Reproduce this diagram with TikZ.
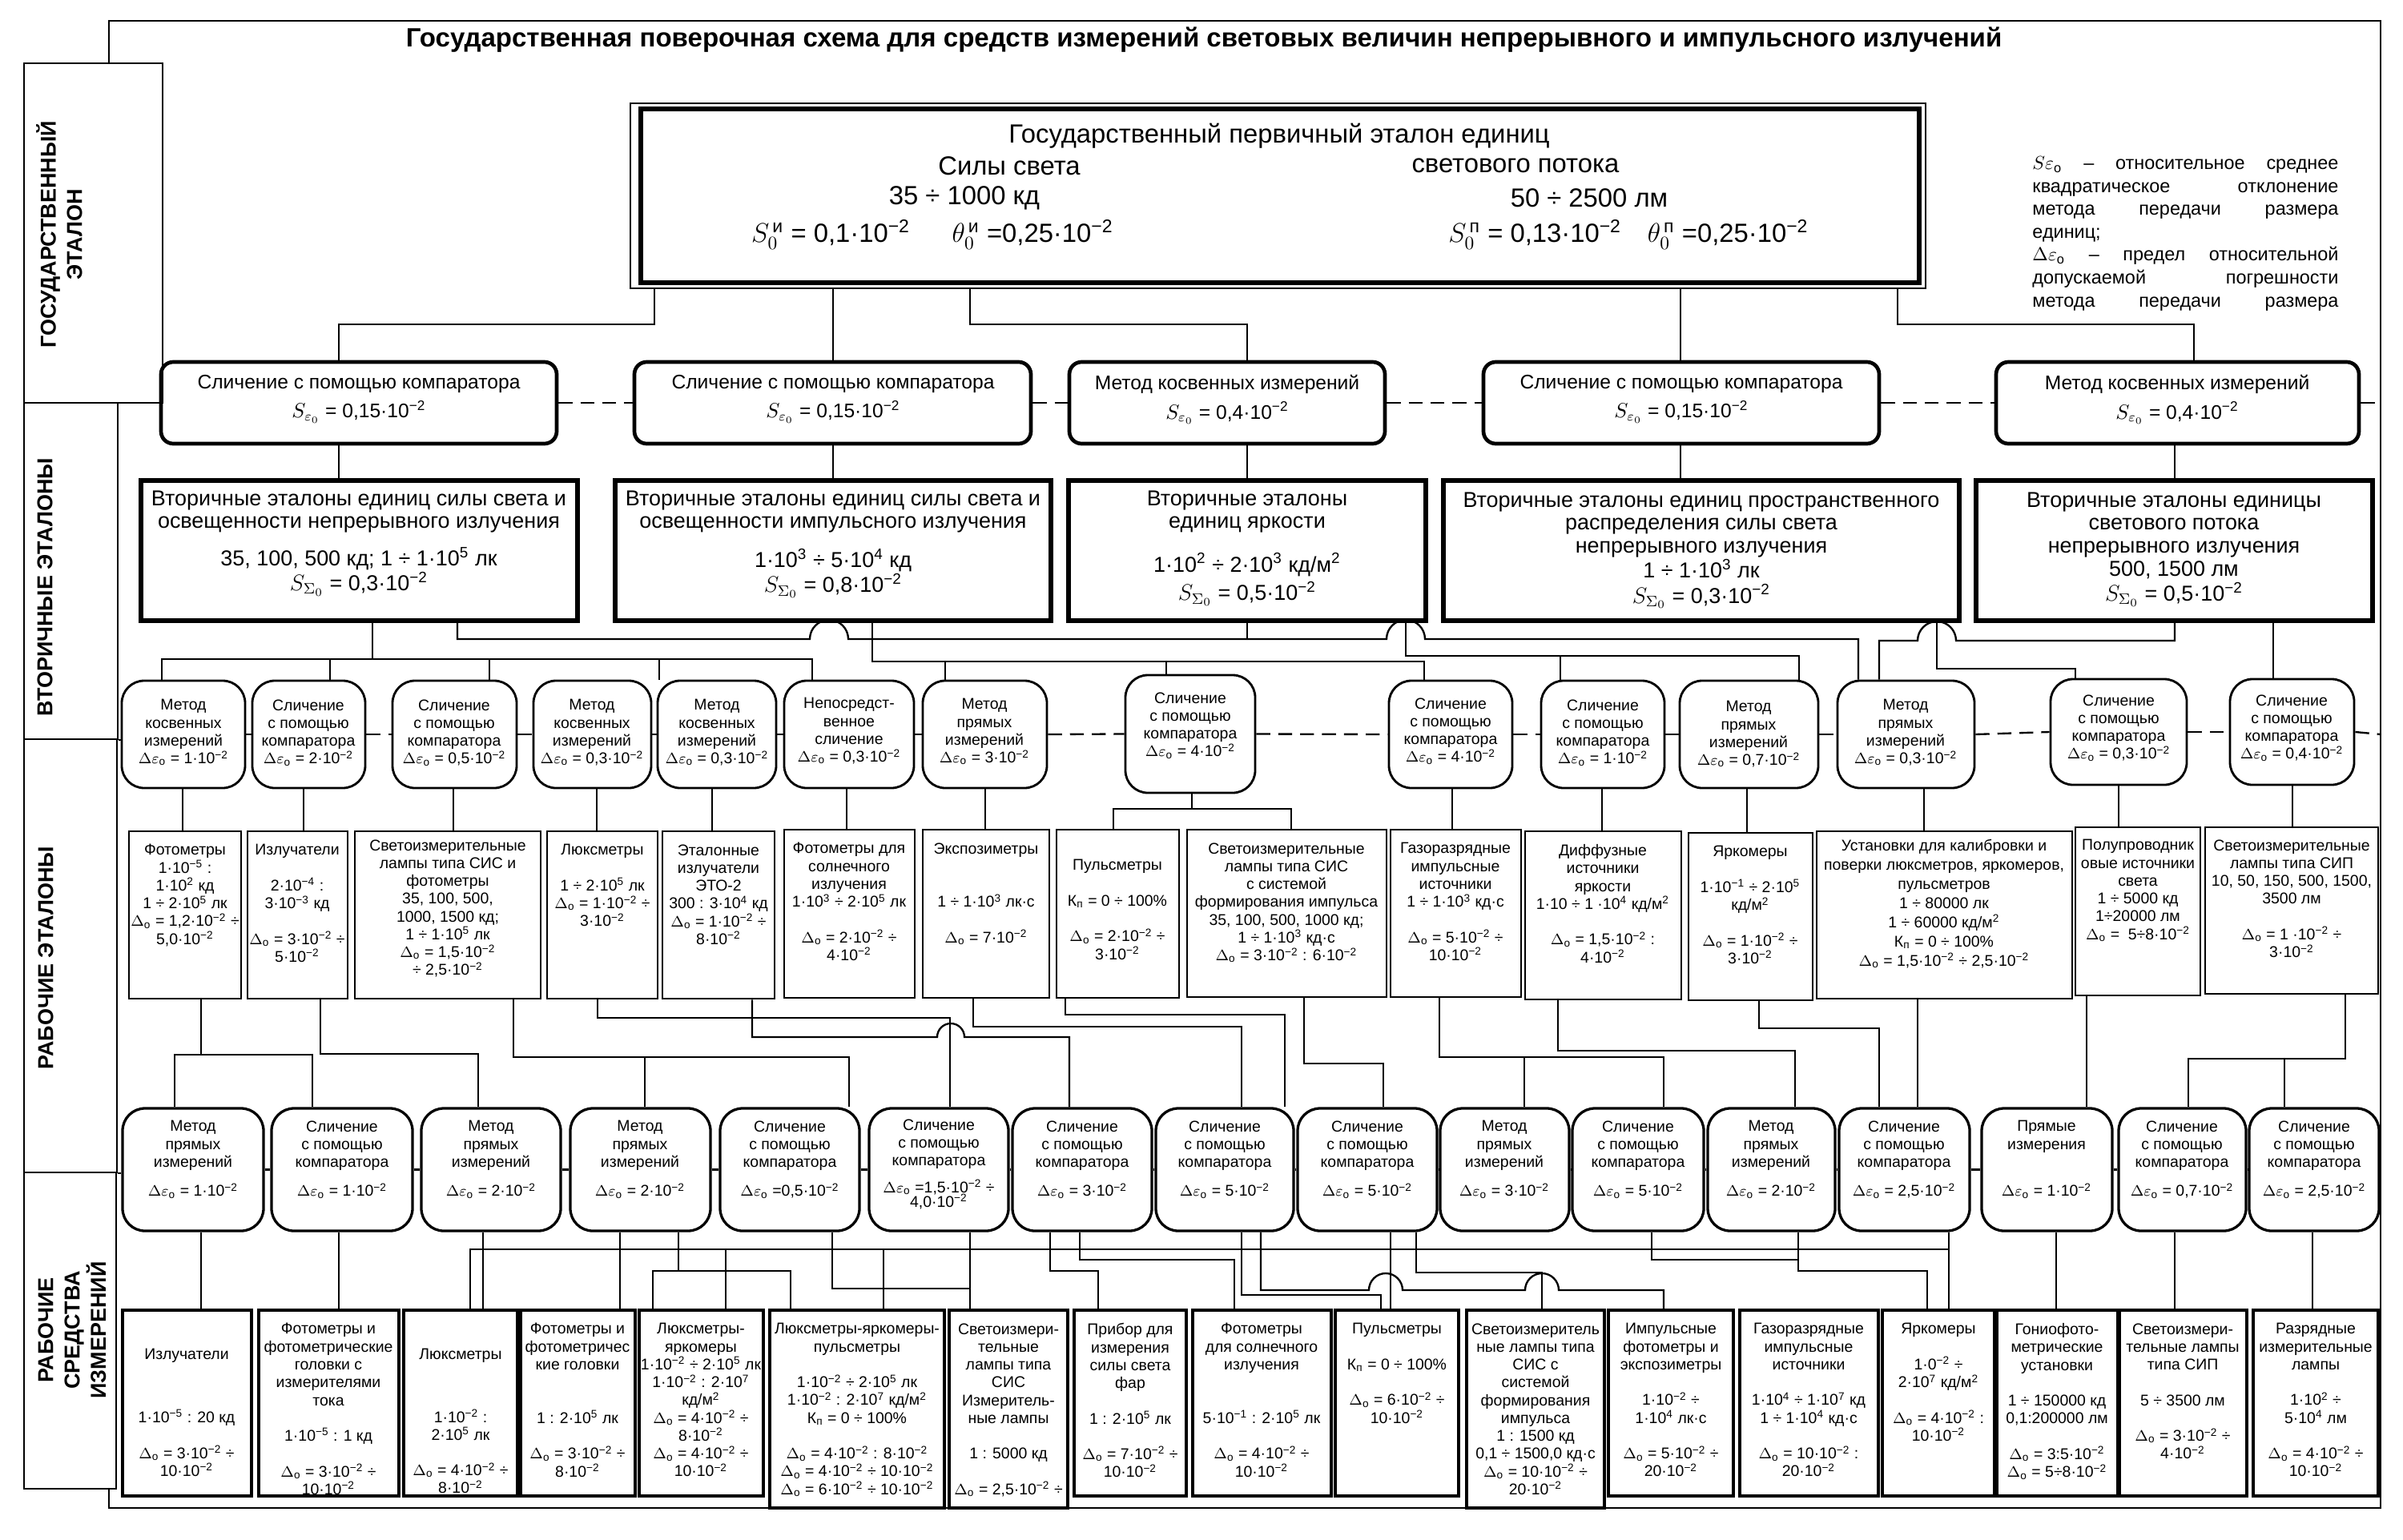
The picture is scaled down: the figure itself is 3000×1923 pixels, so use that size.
\documentclass[tikz,border=0pt]{standalone}
\usepackage{fontspec}
\setmainfont{Liberation Sans}
\usepackage{amsmath}
\usetikzlibrary{fit}
\newcommand{\pw}[1]{\textsuperscript{#1}}
\newcommand{\dlo}{$\Delta_{\mathrm{o}}$}
\newcommand{\dle}{$\Delta\varepsilon_{\mathrm{o}}$}
\newcommand{\Kp}{К\textsubscript{п}}
\tikzset{
  conn/.style={line width=1pt},
  dsh/.style={line width=1pt,dash pattern=on 2.6mm off 1.5mm},
  ttl/.style={font=\fontsize{14.1}{16}\selectfont\bfseries},
  sidebox/.style={draw,line width=1pt,inner sep=0pt},
  sidetxt/.style={font=\fontsize{11.5}{14}\selectfont\bfseries,rotate=90,align=center},
  stdbox/.style={draw,line width=1pt,inner sep=0pt},
  stdtxt/.style={font=\fontsize{14}{16}\selectfont},
  cmpbox/.style={draw,line width=2pt,rounded corners=2.3mm,inner sep=0pt},
  cmptxt/.style={font=\fontsize{10.5}{15.5}\selectfont,align=center,anchor=north,inner sep=0pt},
  secbox/.style={draw,line width=2.5pt,inner sep=0pt},
  sectxt/.style={font=\fontsize{11.5}{12.3}\selectfont,align=center,anchor=north,inner sep=0pt},
  mbox/.style={draw,line width=1.2pt,rounded corners=4.2mm,inner sep=0pt},
  ebox/.style={draw,line width=1.1pt,inner sep=0pt},
  sbox/.style={draw,line width=1.4pt,rounded corners=4.2mm,inner sep=0pt},
  dbox/.style={draw,line width=1.6pt,inner sep=0pt},
  smalltxt/.style={font=\fontsize{8.3}{9.5}\selectfont,align=center,anchor=north,inner sep=0pt},
  keytxt/.style={font=\fontsize{10}{12.2}\selectfont,align=left,anchor=north west,inner sep=0pt}}
\begin{document}
\begin{tikzpicture}[x=0.15mm,y=-0.15mm]
\useasboundingbox (0,0) rectangle (3000,1923);
\node[ttl] (title) at (1503,50) {Государственная поверочная схема для средств измерений световых величин непрерывного и импульсного излучений};
% side column
\node[sidebox,fit={(30,79)(203,503)}] (lab1) {};
\node[sidebox,fit={(30,503)(147,923)}] (lab2) {};
\node[sidebox,fit={(30,923)(146,1464)}] (lab3) {};
\node[sidebox,fit={(30,1464)(145,1859)}] (lab4) {};
\node[sidetxt] (lab1t) at (74,293) {ГОСУДАРСТВЕННЫЙ\\ЭТАЛОН};
\node[sidetxt] (lab2t) at (56,733) {ВТОРИЧНЫЕ ЭТАЛОНЫ};
\node[sidetxt] (lab3t) at (57,1196) {РАБОЧИЕ ЭТАЛОНЫ};
\node[sidetxt] (lab4t) at (90,1661) {РАБОЧИЕ\\СРЕДСТВА\\ИЗМЕРЕНИЙ};
\draw[line width=1.2pt] (136,0 |- lab1.north) -- (136,26) -- (2972,26) -- (2972,1883) -- (136,1883) -- (136,0 |- lab4.south);
% state primary standard
\node[stdbox,fit={(787,129)(2404,360)}] (std) {};
\draw[line width=2.6pt] (800,136) rectangle (2396,353);
\node[stdtxt] (std1) at (1597,170) {Государственный первичный эталон единиц};
\node[stdtxt] (std2) at (1260,207) {Силы света};
\node[stdtxt] (std3) at (1892,207) {светового потока};
\node[stdtxt] (std4) at (1204,247) {35 ÷ 1000 кд};
\node[stdtxt] (std5) at (1984,247) {50 ÷ 2500 лм};
\node[stdtxt] (std6) at (1164,293) {$S^{\,\text{и}}_{0}$ = 0,1·10\pw{−2}\hspace{1.6em}$\theta^{\,\text{и}}_{0}$ =0,25·10\pw{−2}};
\node[stdtxt] (std7) at (2033,293) {$S^{\,\text{п}}_{0}$ = 0,13·10\pw{−2}\hspace{1em}$\theta^{\,\text{п}}_{0}$ =0,25·10\pw{−2}};
\node[keytxt] (key) at (2537,195) {\makebox[57.3mm][s]{$S\varepsilon_{\mathrm{o}}$ – относительное среднее}\\\makebox[57.3mm][s]{квадратическое отклонение}\\\makebox[57.3mm][s]{метода передачи размера}\\единиц;\\\makebox[57.3mm][s]{$\Delta\varepsilon_{\mathrm{o}}$ – предел относительной}\\\makebox[57.3mm][s]{допускаемой погрешности}\\\makebox[57.3mm][s]{метода передачи размера}};
% transfer to secondary standards
\node[cmpbox,fit={(201,452)(695,554)}] (c1) {};
\node[cmpbox,fit={(792,452)(1287,554)}] (c2) {};
\node[cmpbox,fit={(1335,452)(1729,554)}] (c3) {};
\node[cmpbox,fit={(1852,452)(2346,554)}] (c4) {};
\node[cmpbox,fit={(2492,452)(2945,554)}] (c5) {};
\node[cmptxt] (c1t) at (448,468) {Сличение с помощью компаратора\\$S_{\varepsilon_0}$ = 0,15·10\pw{−2}};
\node[cmptxt] (c2t) at (1040,468) {Сличение с помощью компаратора\\$S_{\varepsilon_0}$ = 0,15·10\pw{−2}};
\node[cmptxt] (c3t) at (1532,468) {Метод косвенных измерений\\$S_{\varepsilon_0}$ = 0,4·10\pw{−2}};
\node[cmptxt] (c4t) at (2099,468) {Сличение с помощью компаратора\\$S_{\varepsilon_0}$ = 0,15·10\pw{−2}};
\node[cmptxt] (c5t) at (2718,468) {Метод косвенных измерений\\$S_{\varepsilon_0}$ = 0,4·10\pw{−2}};
\coordinate (rc) at (2972,503);
\draw[dsh] (c1.east) -- (c2.west);
\draw[dsh] (c2.east) -- (c3.west);
\draw[dsh] (c3.east) -- (c4.west);
\draw[dsh] (c4.east) -- (c5.west);
\draw[dsh] (c5.east) -- (rc);
\draw[conn] (817,0 |- std.south) |- (423,405) -- (423,0 |- c1.north);
\draw[conn] (1040,0 |- std.south) -- (1040,0 |- c2.north);
\draw[conn] (1211,0 |- std.south) |- (1557,405) -- (1557,0 |- c3.north);
\draw[conn] (2098,0 |- std.south) -- (2098,0 |- c4.north);
\draw[conn] (2369,0 |- std.south) |- (2739,405) -- (2739,0 |- c5.north);
% secondary standards
\node[secbox,fit={(176,600)(721,775)}] (s1) {};
\node[secbox,fit={(768,600)(1312,775)}] (s2) {};
\node[secbox,fit={(1334,600)(1780,775)}] (s3) {};
\node[secbox,fit={(1802,600)(2446,775)}] (s4) {};
\node[secbox,fit={(2467,600)(2962,775)}] (s5) {};
\node[sectxt] (s1t) at (448,612) {Вторичные эталоны единиц силы света и\\освещенности непрерывного излучения\\[7.5pt]35, 100, 500 кд; 1 ÷ 1·10\pw{5} лк\\[1pt]$S_{\Sigma_0}$ = 0,3·10\pw{−2}};
\node[sectxt] (s2t) at (1040,612) {Вторичные эталоны единиц силы света и\\освещенности импульсного излучения\\[7.5pt]1·10\pw{3} ÷ 5·10\pw{4} кд\\[1pt]$S_{\Sigma_0}$ = 0,8·10\pw{−2}};
\node[sectxt] (s3t) at (1557,612) {Вторичные эталоны\\единиц яркости\\[9.8pt]1·10\pw{2} ÷ 2·10\pw{3} кд/м\pw{2}\\[3pt]$S_{\Sigma_0}$ = 0,5·10\pw{−2}};
\node[sectxt] (s4t) at (2124,614) {Вторичные эталоны единиц пространственного\\распределения силы света\\непрерывного излучения\\1 ÷ 1·10\pw{3} лк\\[1pt]$S_{\Sigma_0}$ = 0,3·10\pw{−2}};
\node[sectxt] (s5t) at (2714,614) {Вторичные эталоны единицы\\светового потока\\непрерывного излучения\\500, 1500 лм\\[1pt]$S_{\Sigma_0}$ = 0,5·10\pw{−2}};
\draw[conn] (423,0 |- c1.south) -- (423,0 |- s1.north);
\draw[conn] (1040,0 |- c2.south) -- (1040,0 |- s2.north);
\draw[conn] (1557,0 |- c3.south) -- (1557,0 |- s3.north);
\draw[conn] (2098,0 |- c4.south) -- (2098,0 |- s4.north);
\draw[conn] (2715,0 |- c5.south) -- (2715,0 |- s5.north);
% methods for working standards
\node[mbox,fit={(152,850)(306,984)}] (m1) {};
\node[mbox,fit={(315,850)(456,984)}] (m2) {};
\node[mbox,fit={(490,850)(645,984)}] (m3) {};
\node[mbox,fit={(666,850)(813,984)}] (m4) {};
\node[mbox,fit={(821,850)(969,984)}] (m5) {};
\node[mbox,fit={(979,850)(1141,984)}] (m6) {};
\node[mbox,fit={(1152,850)(1307,984)}] (m7) {};
\node[mbox,fit={(1405,843)(1567,990)}] (m8) {};
\node[mbox,fit={(1734,850)(1888,984)}] (m9) {};
\node[mbox,fit={(1924,850)(2078,984)}] (m10) {};
\node[mbox,fit={(2097,850)(2270,984)}] (m11) {};
\node[mbox,fit={(2294,850)(2465,984)}] (m12) {};
\node[mbox,fit={(2560,848)(2730,980)}] (m13) {};
\node[mbox,fit={(2784,848)(2939,980)}] (m14) {};
\node[smalltxt] (m1t) at (229,873) {Метод\\косвенных\\измерений\\\dle{} = 1·10\pw{−2}};
\node[smalltxt] (m2t) at (385,873) {Сличение\\с помощью\\компаратора\\\dle{} = 2·10\pw{−2}};
\node[smalltxt] (m3t) at (567,873) {Сличение\\с помощью\\компаратора\\\dle{} = 0,5·10\pw{−2}};
\node[smalltxt] (m4t) at (739,873) {Метод\\косвенных\\измерений\\\dle{} = 0,3·10\pw{−2}};
\node[smalltxt] (m5t) at (895,873) {Метод\\косвенных\\измерений\\\dle{} = 0,3·10\pw{−2}};
\node[smalltxt] (m6t) at (1060,871) {Непосредст-\\венное\\сличение\\\dle{} = 0,3·10\pw{−2}};
\node[smalltxt] (m7t) at (1229,872) {Метод\\прямых\\измерений\\\dle{} = 3·10\pw{−2}};
\node[smalltxt] (m8t) at (1486,864) {Сличение\\с помощью\\компаратора\\\dle{} = 4·10\pw{−2}};
\node[smalltxt] (m9t) at (1811,871) {Сличение\\с помощью\\компаратора\\\dle{} = 4·10\pw{−2}};
\node[smalltxt] (m10t) at (2001,873) {Сличение\\с помощью\\компаратора\\\dle{} = 1·10\pw{−2}};
\node[smalltxt] (m11t) at (2183,875) {Метод\\прямых\\измерений\\\dle{} = 0,7·10\pw{−2}};
\node[smalltxt] (m12t) at (2379,873) {Метод\\прямых\\измерений\\\dle{} = 0,3·10\pw{−2}};
\node[smalltxt] (m13t) at (2645,867) {Сличение\\с помощью\\компаратора\\\dle{} = 0,3·10\pw{−2}};
\node[smalltxt] (m14t) at (2861,867) {Сличение\\с помощью\\компаратора\\\dle{} = 0,4·10\pw{−2}};
\coordinate (rm) at (2972,917);
\draw[conn] (lab2.south east) -- (m1.west |- lab2.south east);
\draw[dsh] (m1.east) -- (m2.west);
\draw[dsh] (m2.east) -- (m3.west);
\draw[dsh] (m3.east) -- (m4.west);
\draw[dsh] (m4.east) -- (m5.west);
\draw[dsh] (m5.east) -- (m6.west);
\draw[dsh] (m6.east) -- (m7.west);
\draw[dsh] (m7.east) -- (m8.west);
\draw[dsh] (m8.east) -- (m9.west);
\draw[dsh] (m9.east) -- (m10.west);
\draw[dsh] (m10.east) -- (m11.west);
\draw[dsh] (m11.east) -- (m12.west);
\draw[dsh] (m12.east) -- (m13.west);
\draw[dsh] (m13.east) -- (m14.west);
\draw[dsh] (m14.east) -- (rm);
% secondary -> methods
\draw[conn] (465,0 |- s1.south) |- (202,823) -- (202,0 |- m1.north);
\draw[conn] (465,823) -| (1014,0 |- m6.north);
\draw[conn] (412,823) -- (412,0 |- m2.north);
\draw[conn] (611,823) -- (611,0 |- m3.north);
\draw[conn] (823,823) -- (823,0 |- m5.north);
\draw[conn] (571,0 |- s1.south) -- (571,798) -- (1011,798) arc[start angle=180,end angle=0,radius=3.6mm] -- (1731,798) arc[start angle=180,end angle=0,radius=3.6mm] -- (2320,798) -- (2320,0 |- m12.north);
\draw[conn] (1089,0 |- s2.south) |- (1778,826) -- (1778,0 |- m9.north);
\draw[conn] (1180,826) -- (1180,0 |- m7.north);
\draw[conn] (1456,826) -- (1456,0 |- m8.north);
\draw[conn] (1557,0 |- s3.south) -- (1557,798);
\draw[conn] (1755,0 |- s3.south) |- (2246,819) -- (2246,0 |- m11.north);
\draw[conn] (1948,819) -- (1948,0 |- m10.north);
\draw[conn] (2418,0 |- s4.south) |- (2591,835) -- (2591,0 |- m13.north);
\draw[conn] (2715,0 |- s5.south) -- (2715,800) -- (2442,800) arc[start angle=0,end angle=180,radius=3.6mm] -- (2346,800) -- (2346,0 |- m12.north);
\draw[conn] (2838,0 |- s5.south) -- (2838,0 |- m14.north);
% working standards
\node[ebox,fit={(161,1038)(301,1247)}] (w1) {};
\node[ebox,fit={(309,1038)(434,1247)}] (w2) {};
\node[ebox,fit={(443,1038)(675,1247)}] (w3) {};
\node[ebox,fit={(683,1038)(821,1247)}] (w4) {};
\node[ebox,fit={(827,1038)(967,1247)}] (w5) {};
\node[ebox,fit={(979,1036)(1142,1246)}] (w6) {};
\node[ebox,fit={(1152,1036)(1310,1246)}] (w7) {};
\node[ebox,fit={(1319,1036)(1472,1246)}] (w8) {};
\node[ebox,fit={(1482,1036)(1731,1245)}] (w9) {};
\node[ebox,fit={(1736,1036)(1899,1245)}] (w10) {};
\node[ebox,fit={(1904,1038)(2099,1248)}] (w11) {};
\node[ebox,fit={(2108,1040)(2263,1249)}] (w12) {};
\node[ebox,fit={(2268,1038)(2587,1247)}] (w13) {};
\node[ebox,fit={(2591,1033)(2747,1243)}] (w14) {};
\node[ebox,fit={(2753,1033)(2969,1241)}] (w15) {};
\node[smalltxt] (w1t) at (231,1054) {Фотометры\\1·10\pw{−5} :\\1·10\pw{2} кд\\1 ÷ 2·10\pw{5} лк\\\dlo{} = 1,2·10\pw{−2} ÷\\5,0·10\pw{−2}};
\node[smalltxt] (w2t) at (371,1054) {Излучатели\\[9.5pt]2·10\pw{−4} :\\3·10\pw{−3} кд\\[9.5pt]\dlo{} = 3·10\pw{−2} ÷\\5·10\pw{−2}};
\node[smalltxt] (w3t) at (559,1048) {Светоизмерительные\\лампы типа СИС и\\фотометры\\35, 100, 500,\\1000, 1500 кд;\\1 ÷ 1·10\pw{5} лк\\\dlo{} = 1,5·10\pw{−2}\\÷ 2,5·10\pw{−2}};
\node[smalltxt] (w4t) at (752,1054) {Люксметры\\[9.5pt]1 ÷ 2·10\pw{5} лк\\\dlo{} = 1·10\pw{−2} ÷\\3·10\pw{−2}};
\node[smalltxt] (w5t) at (897,1054) {Эталонные\\излучатели\\ЭТО-2\\300 : 3·10\pw{4} кд\\\dlo{} = 1·10\pw{−2} ÷\\8·10\pw{−2}};
\node[smalltxt] (w6t) at (1060,1052) {Фотометры для\\солнечного\\излучения\\1·10\pw{3} ÷ 2·10\pw{5} лк\\[9.5pt]\dlo{} = 2·10\pw{−2} ÷\\4·10\pw{−2}};
\node[smalltxt] (w7t) at (1231,1052) {Экспозиметры\\[19pt]1 ÷ 1·10\pw{3} лк·с\\[9.5pt]\dlo{} = 7·10\pw{−2}};
\node[smalltxt] (w8t) at (1395,1073) {Пульсметры\\[9.5pt]\Kp{} = 0 ÷ 100\%\\[9.5pt]\dlo{} = 2·10\pw{−2} ÷\\3·10\pw{−2}};
\node[smalltxt] (w9t) at (1606,1052) {Светоизмерительные\\лампы типа СИС\\с системой\\формирования импульса\\35, 100, 500, 1000 кд;\\1 ÷ 1·10\pw{3} кд·с\\\dlo{} = 3·10\pw{−2} : 6·10\pw{−2}};
\node[smalltxt] (w10t) at (1817,1052) {Газоразрядные\\импульсные\\источники\\1 ÷ 1·10\pw{3} кд·с\\[9.5pt]\dlo{} = 5·10\pw{−2} ÷\\10·10\pw{−2}};
\node[smalltxt] (w11t) at (2001,1054) {Диффузные\\источники\\яркости\\1·10 ÷ 1 ·10\pw{4} кд/м\pw{2}\\[9.5pt]\dlo{} = 1,5·10\pw{−2} :\\4·10\pw{−2}};
\node[smalltxt] (w12t) at (2185,1056) {Яркомеры\\[9.5pt]1·10\pw{−1} ÷ 2·10\pw{5}\\кд/м\pw{2}\\[9.5pt]\dlo{} = 1·10\pw{−2} ÷\\3·10\pw{−2}};
\node[smalltxt,font=\fontsize{8.3}{10.2}\selectfont] (w13t) at (2427,1048) {Установки для калибровки и\\поверки люксметров, яркомеров,\\пульсметров\\1 ÷ 80000 лк\\1 ÷ 60000 кд/м\pw{2}\\\Kp{} = 0 ÷ 100\%\\\dlo{} = 1,5·10\pw{−2} ÷ 2,5·10\pw{−2}};
\node[smalltxt] (w14t) at (2669,1048) {Полупроводник\\овые источники\\света\\1 ÷ 5000 кд\\1÷20000 лм\\\dlo{} =\ \ 5÷8·10\pw{−2}};
\node[smalltxt] (w15t) at (2861,1048) {Светоизмерительные\\лампы типа СИП\\10, 50, 150, 500, 1500,\\3500 лм\\[9.5pt]\dlo{} = 1 ·10\pw{−2} ÷\\3·10\pw{−2}};
% methods -> working standards
\draw[conn] (228,0 |- m1.south) -- (228,0 |- w1.north);
\draw[conn] (379,0 |- m2.south) -- (379,0 |- w2.north);
\draw[conn] (566,0 |- m3.south) -- (566,0 |- w3.north);
\draw[conn] (745,0 |- m4.south) -- (745,0 |- w4.north);
\draw[conn] (889,0 |- m5.south) -- (889,0 |- w5.north);
\draw[conn] (1057,0 |- m6.south) -- (1057,0 |- w6.north);
\draw[conn] (1230,0 |- m7.south) -- (1230,0 |- w7.north);
\draw[conn] (1488,0 |- m8.south) -- (1488,1010);
\draw[conn] (1390,0 |- w8.north) |- (1612,1010) -- (1612,0 |- w9.north);
\draw[conn] (1813,0 |- m9.south) -- (1813,0 |- w10.north);
\draw[conn] (2000,0 |- m10.south) -- (2000,0 |- w11.north);
\draw[conn] (2181,0 |- m11.south) -- (2181,0 |- w12.north);
\draw[conn] (2402,0 |- m12.south) -- (2402,0 |- w13.north);
\draw[conn] (2645,0 |- m13.south) -- (2645,0 |- w14.north);
\draw[conn] (2862,0 |- m14.south) -- (2862,0 |- w15.north);
% methods for working instruments
\node[sbox,fit={(153,1384)(329,1537)}] (l1) {};
\node[sbox,fit={(339,1384)(515,1537)}] (l2) {};
\node[sbox,fit={(526,1384)(700,1537)}] (l3) {};
\node[sbox,fit={(712,1384)(887,1537)}] (l4) {};
\node[sbox,fit={(899,1384)(1073,1537)}] (l5) {};
\node[sbox,fit={(1085,1384)(1259,1537)}] (l6) {};
\node[sbox,fit={(1264,1384)(1438,1537)}] (l7) {};
\node[sbox,fit={(1443,1384)(1615,1537)}] (l8) {};
\node[sbox,fit={(1620,1384)(1794,1537)}] (l9) {};
\node[sbox,fit={(1798,1384)(1959,1537)}] (l10) {};
\node[sbox,fit={(1963,1384)(2127,1537)}] (l11) {};
\node[sbox,fit={(2132,1384)(2291,1537)}] (l12) {};
\node[sbox,fit={(2296,1384)(2459,1537)}] (l13) {};
\node[sbox,fit={(2474,1384)(2637,1537)}] (l14) {};
\node[sbox,fit={(2645,1384)(2804,1537)}] (l15) {};
\node[sbox,fit={(2808,1384)(2970,1537)}] (l16) {};
\node[smalltxt] (l1t) at (241,1399) {Метод\\прямых\\измерений\\[6pt]\dle{} = 1·10\pw{−2}};
\node[smalltxt] (l2t) at (427,1399) {Сличение\\с помощью\\компаратора\\[6pt]\dle{} = 1·10\pw{−2}};
\node[smalltxt] (l3t) at (613,1399) {Метод\\прямых\\измерений\\[6pt]\dle{} = 2·10\pw{−2}};
\node[smalltxt] (l4t) at (799,1399) {Метод\\прямых\\измерений\\[6pt]\dle{} = 2·10\pw{−2}};
\node[smalltxt] (l5t) at (986,1399) {Сличение\\с помощью\\компаратора\\[6pt]\dle{} =0,5·10\pw{−2}};
\node[smalltxt] (l6t) at (1172,1397) {Сличение\\с помощью\\компаратора\\[5pt]\dle{} =1,5·10\pw{−2} ÷\\[-2pt]4,0·10\pw{−2}};
\node[smalltxt] (l7t) at (1351,1399) {Сличение\\с помощью\\компаратора\\[6pt]\dle{} = 3·10\pw{−2}};
\node[smalltxt] (l8t) at (1529,1399) {Сличение\\с помощью\\компаратора\\[6pt]\dle{} = 5·10\pw{−2}};
\node[smalltxt] (l9t) at (1707,1399) {Сличение\\с помощью\\компаратора\\[6pt]\dle{} = 5·10\pw{−2}};
\node[smalltxt] (l10t) at (1878,1399) {Метод\\прямых\\измерений\\[6pt]\dle{} = 3·10\pw{−2}};
\node[smalltxt] (l11t) at (2045,1399) {Сличение\\с помощью\\компаратора\\[6pt]\dle{} = 5·10\pw{−2}};
\node[smalltxt] (l12t) at (2211,1399) {Метод\\прямых\\измерений\\[6pt]\dle{} = 2·10\pw{−2}};
\node[smalltxt] (l13t) at (2377,1399) {Сличение\\с помощью\\компаратора\\[6pt]\dle{} = 2,5·10\pw{−2}};
\node[smalltxt] (l14t) at (2555,1399) {Прямые\\измерения\\[15.5pt]\dle{} = 1·10\pw{−2}};
\node[smalltxt] (l15t) at (2724,1399) {Сличение\\с помощью\\компаратора\\[6pt]\dle{} = 0,7·10\pw{−2}};
\node[smalltxt] (l16t) at (2889,1399) {Сличение\\с помощью\\компаратора\\[6pt]\dle{} = 2,5·10\pw{−2}};
\draw[conn] (lab3.south east) -- (l1.west |- lab3.south east);
\draw[conn] (l1.east) -- (l2.west);
\draw[conn] (l2.east) -- (l3.west);
\draw[conn] (l3.east) -- (l4.west);
\draw[conn] (l4.east) -- (l5.west);
\draw[conn] (l5.east) -- (l6.west);
\draw[conn] (l6.east) -- (l7.west);
\draw[conn] (l7.east) -- (l8.west);
\draw[conn] (l8.east) -- (l9.west);
\draw[conn] (l9.east) -- (l10.west);
\draw[conn] (l10.east) -- (l11.west);
\draw[conn] (l11.east) -- (l12.west);
\draw[conn] (l12.east) -- (l13.west);
\draw[conn] (l13.east) -- (l14.west);
\draw[conn] (l14.east) -- (l15.west);
\draw[conn] (l15.east) -- (l16.west);
% working standards -> methods
\draw[conn] (251,0 |- w1.south) |- (218,1317) -- (218,0 |- l1.north);
\draw[conn] (251,1317) -| (390,0 |- l2.north);
\draw[conn] (400,0 |- w2.south) |- (597,1316) -- (597,0 |- l3.north);
\draw[conn] (641,0 |- w3.south) |- (1060,1320) -- (1060,0 |- l5.north);
\draw[conn] (805,1320) -- (805,0 |- l4.north);
\draw[conn] (746,0 |- w4.south) |- (1186,1271) -- (1186,0 |- l6.north);
\draw[conn] (939,0 |- w5.south) -- (939,1295) -- (1170,1295) arc[start angle=180,end angle=0,radius=2.55mm] -- (1335,1295) -- (1335,0 |- l7.north);
\draw[conn] (1215,0 |- w7.south) |- (1550,1282) -- (1550,0 |- l8.north);
\draw[conn] (1330,0 |- w8.south) |- (1604,1267) -- (1604,0 |- l8.north);
\draw[conn] (1628,0 |- w9.south) |- (1727,1328) -- (1727,0 |- l9.north);
\draw[conn] (1797,0 |- w10.south) |- (2077,1320) -- (2077,0 |- l11.north);
\draw[conn] (1903,1320) -- (1903,0 |- l10.north);
\draw[conn] (1945,0 |- w11.south) |- (2241,1312) -- (2241,0 |- l12.north);
\draw[conn] (2196,0 |- w12.south) |- (2346,1284) -- (2346,0 |- l13.north);
\draw[conn] (2394,0 |- w13.south) -- (2394,0 |- l13.north);
\draw[conn] (2605,0 |- w14.south) -- (2605,0 |- l14.north);
\draw[conn] (2928,0 |- w15.south) |- (2732,1322) -- (2732,0 |- l15.north);
\draw[conn] (2852,1322) -- (2852,0 |- l16.north);
% working measuring instruments
\node[dbox,fit={(153,1636)(314,1868)}] (b1) {};
\node[dbox,fit={(323,1636)(498,1868)}] (b2) {};
\node[dbox,fit={(504,1636)(646,1868)}] (b3) {};
\node[dbox,fit={(650,1636)(793,1868)}] (b4) {};
\node[dbox,fit={(798,1636)(953,1868)}] (b5) {};
\node[dbox,fit={(961,1636)(1179,1883)}] (b6) {};
\node[dbox,fit={(1185,1636)(1333,1883)}] (b7) {};
\node[dbox,fit={(1341,1636)(1481,1868)}] (b8) {};
\node[dbox,fit={(1489,1636)(1662,1868)}] (b9) {};
\node[dbox,fit={(1667,1636)(1821,1868)}] (b10) {};
\node[dbox,fit={(1831,1636)(2003,1883)}] (b11) {};
\node[dbox,fit={(2008,1636)(2164,1868)}] (b12) {};
\node[dbox,fit={(2172,1636)(2345,1868)}] (b13) {};
\node[dbox,fit={(2350,1636)(2490,1868)}] (b14) {};
\node[dbox,fit={(2493,1636)(2644,1868)}] (b15) {};
\node[dbox,fit={(2646,1636)(2805,1868)}] (b16) {};
\node[dbox,fit={(2813,1636)(2969,1868)}] (b17) {};
\node[smalltxt] (b1t) at (233,1684) {Излучатели\\[8.4mm]1·10\pw{−5} : 20 кд\\[3.4mm]\dlo{} = 3·10\pw{−2} ÷\\10·10\pw{−2}};
\begin{scope}
\clip (323,1636) rectangle (498,1866);
\node[smalltxt] (b2t) at (410,1652) {Фотометры и\\фотометрические\\головки с\\измерителями\\тока\\[9.5pt]1·10\pw{−5} : 1 кд\\[9.5pt]\dlo{} = 3·10\pw{−2} ÷\\10·10\pw{−2}};
\end{scope}
\begin{scope}
\clip (504,1636) rectangle (646,1866);
\node[smalltxt] (b3t) at (575,1684) {Люксметры\\[8.4mm]1·10\pw{−2} :\\2·10\pw{5} лк\\[3.3mm]\dlo{} = 4·10\pw{−2} ÷\\8·10\pw{−2}};
\end{scope}
\node[smalltxt] (b4t) at (721,1652) {Фотометры и\\фотометричес\\кие головки\\[19pt]1 : 2·10\pw{5} лк\\[9.5pt]\dlo{} = 3·10\pw{−2} ÷\\8·10\pw{−2}};
\node[smalltxt] (b5t) at (875,1652) {Люксметры-\\яркомеры\\1·10\pw{−2} ÷ 2·10\pw{5} лк\\1·10\pw{−2} : 2·10\pw{7}\\кд/м\pw{2}\\\dlo{} = 4·10\pw{−2} ÷\\8·10\pw{−2}\\\dlo{} = 4·10\pw{−2} ÷\\10·10\pw{−2}};
\node[smalltxt] (b6t) at (1070,1652) {Люксметры-яркомеры-\\пульсметры\\[9.5pt]1·10\pw{−2} ÷ 2·10\pw{5} лк\\1·10\pw{−2} : 2·10\pw{7} кд/м\pw{2}\\\Kp{} = 0 ÷ 100\%\\[9.5pt]\dlo{} = 4·10\pw{−2} : 8·10\pw{−2}\\\dlo{} = 4·10\pw{−2} ÷ 10·10\pw{−2}\\\dlo{} = 6·10\pw{−2} ÷ 10·10\pw{−2}};
\node[smalltxt] (b7t) at (1259,1652) {Светоизмери-\\тельные\\лампы типа\\СИС\\Измеритель-\\ные лампы\\[9.5pt]1 : 5000 кд\\[9.5pt]\dlo{} = 2,5·10\pw{−2} ÷};
\node[smalltxt] (b8t) at (1411,1652) {Прибор для\\измерения\\силы света\\фар\\[9.5pt]1 : 2·10\pw{5} лк\\[9.5pt]\dlo{} = 7·10\pw{−2} ÷\\10·10\pw{−2}};
\node[smalltxt] (b9t) at (1575,1652) {Фотометры\\для солнечного\\излучения\\[19pt]5·10\pw{−1} : 2·10\pw{5} лк\\[9.5pt]\dlo{} = 4·10\pw{−2} ÷\\10·10\pw{−2}};
\node[smalltxt] (b10t) at (1744,1652) {Пульсметры\\[9.5pt]\Kp{} = 0 ÷ 100\%\\[9.5pt]\dlo{} = 6·10\pw{−2} ÷\\10·10\pw{−2}};
\node[smalltxt] (b11t) at (1917,1652) {Светоизмеритель\\ные лампы типа\\СИС с\\системой\\формирования\\импульса\\1 : 1500 кд\\0,1 ÷ 1500,0 кд·с\\\dlo{} = 10·10\pw{−2} ÷\\20·10\pw{−2}};
\node[smalltxt] (b12t) at (2086,1652) {Импульсные\\фотометры и\\экспозиметры\\[9.5pt]1·10\pw{−2} ÷\\1·10\pw{4} лк·с\\[9.5pt]\dlo{} = 5·10\pw{−2} ÷\\20·10\pw{−2}};
\node[smalltxt] (b13t) at (2258,1652) {Газоразрядные\\импульсные\\источники\\[9.5pt]1·10\pw{4} ÷ 1·10\pw{7} кд\\1 ÷ 1·10\pw{4} кд·с\\[9.5pt]\dlo{} = 10·10\pw{−2} :\\20·10\pw{−2}};
\node[smalltxt] (b14t) at (2420,1652) {Яркомеры\\[9.5pt]1·0\pw{−2} ÷\\2·10\pw{7} кд/м\pw{2}\\[9.5pt]\dlo{} = 4·10\pw{−2} :\\10·10\pw{−2}};
\node[smalltxt] (b15t) at (2568,1652) {Гониофото-\\метрические\\установки\\[9.5pt]1 ÷ 150000 кд\\0,1:200000 лм\\[9.5pt]\dlo{} = 3:5·10\pw{−2}\\\dlo{} = 5÷8·10\pw{−2}};
\node[smalltxt] (b16t) at (2725,1652) {Светоизмери-\\тельные лампы\\типа СИП\\[9.5pt]5 ÷ 3500 лм\\[9.5pt]\dlo{} = 3·10\pw{−2} ÷\\4·10\pw{−2}};
\node[smalltxt] (b17t) at (2891,1652) {Разрядные\\измерительные\\лампы\\[9.5pt]1·10\pw{2} ÷\\5·10\pw{4} лм\\[9.5pt]\dlo{} = 4·10\pw{−2} ÷\\10·10\pw{−2}};
% methods -> working instruments
\draw[conn] (251,0 |- l1.south) -- (251,0 |- b1.north);
\draw[conn] (423,0 |- l2.south) -- (423,0 |- b2.north);
\draw[conn] (603,0 |- l3.south) -- (603,0 |- b3.north);
\draw[conn] (774,0 |- l4.south) -- (774,0 |- b4.north);
\draw[conn] (847,0 |- l4.south) -- (847,1587);
\draw[conn] (815,0 |- b5.north) |- (987,1587) -- (987,0 |- b6.north);
\draw[conn] (2433,0 |- l13.south) -- (2433,0 |- b14.north);
\draw[conn] (2433,1560) -| (587,0 |- b3.north);
\draw[conn] (906,1560) -- (906,0 |- b5.north);
\draw[conn] (1103,1560) -- (1103,0 |- b6.north);
\draw[conn] (1039,0 |- l5.south) |- (1211,1609);
\draw[conn] (1211,0 |- l6.south) -- (1211,0 |- b7.north);
\draw[conn] (1311,0 |- l7.south) |- (1371,1587) -- (1371,0 |- b8.north);
\draw[conn] (1348,0 |- l7.south) |- (1541,1573) -- (1541,0 |- b9.north);
\draw[conn] (1550,0 |- l8.south) |- (1724,1617) -- (1724,0 |- b10.north);
\draw[conn] (1574,0 |- l8.south) |- (1709,1611) arc[start angle=180,end angle=0,radius=3.15mm] -- (1904,1611) arc[start angle=180,end angle=0,radius=3.15mm] -- (2077,1611) -- (2077,0 |- b12.north);
\draw[conn] (1736,0 |- l9.south) -- (1736,0 |- b10.north);
\draw[conn] (1768,0 |- l9.south) |- (1925,1589) -- (1925,0 |- b11.north);
\draw[conn] (2062,0 |- l11.south) |- (2245,1573);
\draw[conn] (2245,0 |- l12.south) |- (2406,1587) -- (2406,0 |- b14.north);
\draw[conn] (2567,0 |- l14.south) -- (2567,0 |- b15.north);
\draw[conn] (2715,0 |- l15.south) -- (2715,0 |- b16.north);
\draw[conn] (2887,0 |- l16.south) -- (2887,0 |- b17.north);
\end{tikzpicture}
\end{document}
